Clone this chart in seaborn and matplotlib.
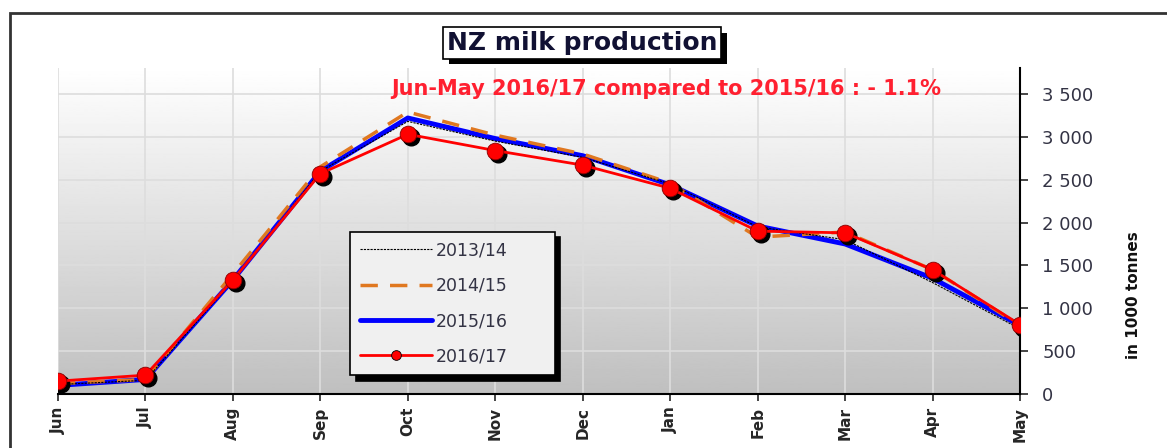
import numpy as np
import pandas as pd
import matplotlib
matplotlib.use("Agg")
import matplotlib.pyplot as plt
import matplotlib.transforms as mtransforms
import matplotlib.patheffects as pe
from matplotlib.patches import Rectangle
from matplotlib.ticker import FuncFormatter
import seaborn as sns

# data (in 1000 tonnes)
months = ["Jun", "Jul", "Aug", "Sep", "Oct", "Nov", "Dec", "Jan", "Feb", "Mar", "Apr", "May"]
s2013 = [110, 160, 1320, 2600, 3180, 2950, 2760, 2450, 1950, 1800, 1300, 760]
s2014 = [120, 170, 1400, 2650, 3290, 3020, 2800, 2460, 1830, 1890, 1450, 800]
s2015 = [100, 170, 1330, 2600, 3220, 2980, 2780, 2440, 1960, 1750, 1350, 800]
s2016 = [150, 220, 1330, 2570, 3030, 2840, 2670, 2400, 1900, 1880, 1450, 810]
title = "NZ milk production"
note = "Jun-May 2016/17 compared to 2015/16 : - 1.1%"

df = pd.DataFrame({"x": np.arange(len(months)), "s2013": s2013, "s2014": s2014,
                   "s2015": s2015, "s2016": s2016})

sns.set_style("white")
plt.rcParams["font.family"] = ["DejaVu Sans"]

fig = plt.figure(figsize=(11.67, 4.48), dpi=100)
ax = fig.add_axes([58 / 1167, 54 / 448, 962 / 1167, 326 / 448])
ytop = 3803

# gradient background
grad = np.linspace(1.0, 0.75, 256).reshape(-1, 1)
ax.imshow(grad, cmap="gray", vmin=0, vmax=1, extent=(0, 11, 0, ytop), aspect="auto", zorder=0)

for x in df.x:
    ax.axvline(x, color="#dddddd", lw=1.2, zorder=1)
for y in range(500, 4000, 500):
    ax.axhline(y, color="#dddddd", lw=1.2, zorder=1)

sns.lineplot(data=df, x="x", y="s2015", color="#0000ff", lw=3.5, ax=ax, label="2015/16", zorder=3)
sns.lineplot(data=df, x="x", y="s2014", color="#e07820", lw=2.5, ax=ax, label="2014/15",
             dashes=False, zorder=4).lines[-1].set_dashes([5, 3.5])
sns.lineplot(data=df, x="x", y="s2013", color="black", lw=0.8, ax=ax, label="2013/14", zorder=5)
ax.lines[-1].set_dashes([2, 1])

# marker shadows
shadow = mtransforms.offset_copy(ax.transData, fig=fig, x=3, y=-3, units="dots")
ax.plot(df.x, df.s2016, ls="none", marker="o", ms=12, color="black", transform=shadow, zorder=6)
sns.lineplot(data=df, x="x", y="s2016", color="#ff0000", lw=2, marker="o", ms=12,
             mec="#880000", mew=0.6, ax=ax, label="2016/17", zorder=7)

ax.set_xlim(0, 11)
ax.set_ylim(0, ytop)
ax.set_xticks(df.x)
ax.set_xticklabels(months, rotation=90, fontweight="bold", fontsize=11)
ax.set_xlabel("")
ax.set_ylabel("")
ax.yaxis.tick_right()
ax.set_yticks(range(0, 4000, 500))
ax.yaxis.set_major_formatter(FuncFormatter(lambda v, p: f"{int(v):,}".replace(",", " ")))
ax.tick_params(axis="y", labelsize=13, labelcolor="#333344", length=6, width=1.2, pad=10, direction="out", right=True)
ax.tick_params(axis="x", length=5, width=1.2, direction="out", bottom=True, pad=4)
for s in ["left", "top"]:
    ax.spines[s].set_visible(False)
for s in ["right", "bottom"]:
    ax.spines[s].set_color("black")
    ax.spines[s].set_linewidth(1.5)

# legend in shadowed box
handles, labels = ax.get_legend_handles_labels()
order = [labels.index(l) for l in ["2013/14", "2014/15", "2015/16", "2016/17"]]
leg = ax.legend([handles[i] for i in order], [labels[i] for i in order],
                loc="lower left", bbox_to_anchor=(0.3035, 0.058, 0.213, 0.42), mode="expand",
                fontsize=12.5, labelspacing=1.0, handlelength=4.2, handletextpad=0.2,
                borderpad=0.55, borderaxespad=0, frameon=True, fancybox=False,
                shadow={"color": "black", "alpha": 1, "ox": 4, "oy": -4},
                edgecolor="black", facecolor="#f0f0f0", framealpha=1)
leg.get_frame().set_linewidth(1.2)
leg.set_zorder(10)
for h in leg.legend_handles:
    if h.get_label() == "2016/17":
        h.set_markersize(7)
        h.set_markeredgecolor("black")
for t in leg.get_texts():
    t.set_color("#333344")

ax.text(0.632, 0.935, note, transform=ax.transAxes, ha="center", va="center",
        color="#ff2030", fontsize=15, fontweight="bold", zorder=8)

tt = fig.text(582 / 1167, 1 - 43 / 448, title, ha="center", va="center", fontsize=18,
              fontweight="bold", color="#111133",
              bbox=dict(boxstyle="square,pad=0.15", fc="white", ec="black", lw=1.2))
tt.get_bbox_patch().set_path_effects([pe.SimplePatchShadow(offset=(4, -4), shadow_rgbFace="black", alpha=1), pe.Normal()])

fig.text(1133 / 1167, 1 - 295 / 448, "in 1000 tonnes", rotation=90, ha="center", va="center",
         fontsize=11, fontweight="bold", color="#111111")

fig.patches.append(Rectangle((10 / 1167, -0.1), 1.1, 1 - 13 / 448 + 0.1, transform=fig.transFigure,
                             fill=False, ec="#333333", lw=2))

fig.savefig("out.png", dpi=100)
